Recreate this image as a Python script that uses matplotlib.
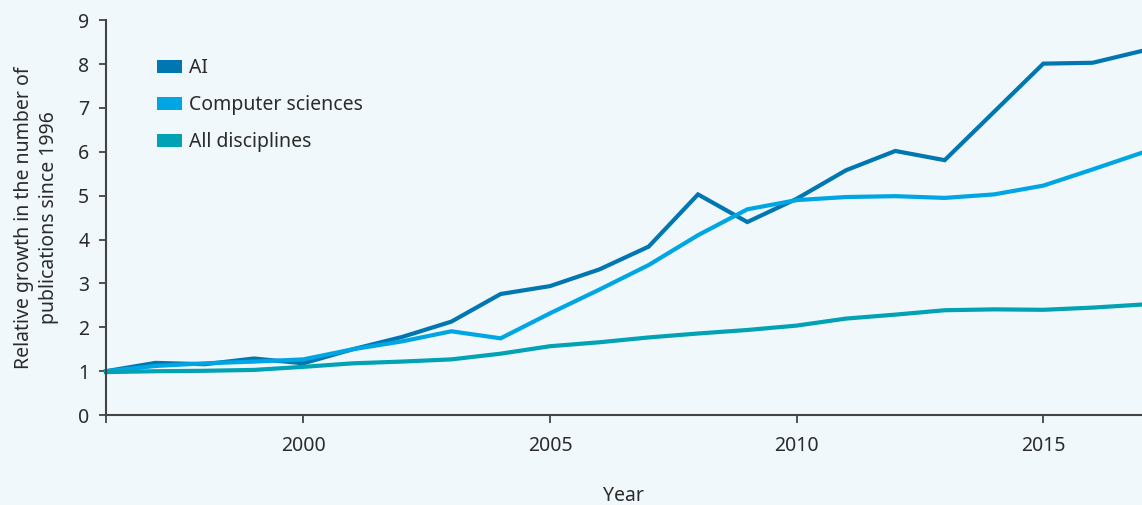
import numpy as np
import matplotlib
matplotlib.use("Agg")
import matplotlib.pyplot as plt
from matplotlib.patches import Patch

# Data
years = list(range(1996, 2018))
ai = [1.00, 1.19, 1.16, 1.29, 1.18, 1.50, 1.78, 2.13, 2.76, 2.94, 3.32, 3.84,
      5.03, 4.40, 4.93, 5.58, 6.02, 5.81, 6.91, 8.01, 8.03, 8.30]
computer_sciences = [1.00, 1.12, 1.18, 1.22, 1.27, 1.50, 1.68, 1.91, 1.75, 2.32,
                     2.86, 3.42, 4.10, 4.69, 4.90, 4.97, 4.99, 4.95, 5.03, 5.23,
                     5.60, 5.98]
all_disciplines = [0.98, 1.00, 1.01, 1.03, 1.10, 1.18, 1.22, 1.27, 1.40, 1.57,
                   1.66, 1.77, 1.86, 1.94, 2.04, 2.20, 2.29, 2.39, 2.41, 2.40,
                   2.45, 2.52]

series_names = ["AI", "Computer sciences", "All disciplines"]
x_ticks = [1996, 2000, 2005, 2010, 2015]
x_tick_labels = ["", "2000", "2005", "2010", "2015"]
y_ticks = list(range(0, 10))

colors = ["#0077b0", "#00a5e3", "#00a2b3"]
bg = "#f0f8fc"
axis_color = "#444444"
text_color = "#2b2b2b"

plt.rcParams["font.family"] = ["Noto Sans", "DejaVu Sans"]

fig = plt.figure(figsize=(11.42, 5.05), dpi=100, facecolor=bg)
ax = fig.add_axes([0.0928, 0.178, 0.9072, 0.782])
ax.set_facecolor(bg)

for vals, name, color in zip([ai, computer_sciences, all_disciplines], series_names, colors):
    ax.plot(years, vals, color=color, linewidth=3.0, label=name,
            solid_joinstyle="miter", clip_on=False)

ax.set_xlim(1996, 2017)
ax.set_ylim(0, 9)
ax.set_xticks(x_ticks)
ax.set_xticklabels(x_tick_labels)
ax.set_yticks(y_ticks)

for side in ["top", "right"]:
    ax.spines[side].set_visible(False)
for side in ["left", "bottom"]:
    ax.spines[side].set_color(axis_color)
    ax.spines[side].set_linewidth(1.5)

ax.tick_params(axis="both", colors=axis_color, labelcolor=text_color,
               labelsize=14, width=1.3)
ax.tick_params(axis="x", length=6, pad=9)
ax.tick_params(axis="y", length=5, pad=7)

ax.set_xlabel("Year", fontsize=14, color=text_color, labelpad=22)
ax.set_ylabel("Relative growth in the number of\npublications since 1996",
              fontsize=14, color=text_color, labelpad=14, linespacing=1.3)

handles = [Patch(facecolor=c, edgecolor="none") for c in colors]
ax.legend(handles, series_names, loc="upper left", bbox_to_anchor=(0.032, 0.948),
          frameon=False, fontsize=14, handlelength=1.3, handleheight=0.62,
          handletextpad=0.35, labelspacing=0.88, labelcolor=text_color)

fig.savefig("out.png", dpi=100, facecolor=bg)
